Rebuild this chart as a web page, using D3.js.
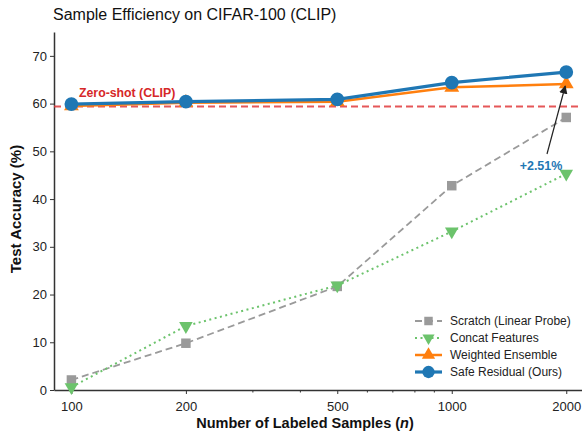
<!DOCTYPE html>
<html>
<head>
<meta charset="utf-8">
<script src="https://cdn.jsdelivr.net/npm/d3@7"></script>
<style>
  body { margin: 0; background: #fff; }
  svg text { font-family: "Liberation Sans", Arial, sans-serif; }
</style>
</head>
<body>
<svg id="chart" width="582" height="434"></svg>
<script>
// data
var samples = [100, 200, 500, 1000, 2000];
var scratch = [2.1, 9.8, 21.7, 42.8, 57.1];
var concat = [0.6, 13.4, 21.9, 33.2, 45.3];
var weighted = [59.5, 60.2, 60.4, 63.4, 64.1];
var safeResidual = [59.9, 60.4, 60.9, 64.4, 66.6];
var zeroShot = 59.4;
var xTicks = [100, 200, 500, 1000, 2000];
var xMinor = [300, 400, 600, 700, 800, 900];
var yTicks = [0, 10, 20, 30, 40, 50, 60, 70];

var svg = d3.select("#chart");
var m = {left: 54, top: 32, right: 0, bottom: 44};
var W = 582, H = 434;

var x = d3.scaleLog().domain([90, 2200]).range([m.left, W - m.right]);
var y = d3.scaleLinear().domain([0, 75]).range([H - m.bottom, m.top]);

// title
svg.append("text").attr("x", 53).attr("y", 20)
    .style("font-size", "16px").attr("fill", "#111")
    .text("Sample Efficiency on CIFAR-100 (CLIP)");

// axes
var xAxis = svg.append("g").attr("transform", "translate(0," + y(0) + ")")
    .call(d3.axisBottom(x).tickValues(xTicks).tickFormat(d3.format("d")).tickSize(4).tickSizeOuter(0));
xAxis.append("g").selectAll("line").data(xMinor).enter().append("line")
    .attr("x1", function (d) { return x(d); }).attr("x2", function (d) { return x(d); })
    .attr("y1", 0).attr("y2", 2.5).attr("stroke", "#333").attr("stroke-width", 1);

var yAxis = svg.append("g").attr("transform", "translate(" + m.left + ",0)")
    .call(d3.axisLeft(y).tickValues(yTicks).tickSize(4).tickSizeOuter(0));

[xAxis, yAxis].forEach(function (g) {
    g.select(".domain").attr("stroke", "#333").attr("stroke-width", 1.5);
    g.selectAll(".tick line").attr("stroke", "#333").attr("stroke-width", 1);
    g.selectAll(".tick text").style("font-size", "13px").attr("fill", "#222")
        .style("font-family", "'Liberation Sans', Arial, sans-serif");
});
xAxis.selectAll(".tick text").attr("dy", "1.1em");

svg.append("text").attr("x", 305).attr("y", 428).attr("text-anchor", "middle")
    .style("font-size", "14.5px").style("font-weight", "bold").attr("fill", "#111")
    .html("Number of Labeled Samples (<tspan font-style='italic'>n</tspan>)");
svg.append("text").attr("transform", "translate(21,209) rotate(-90)")
    .attr("text-anchor", "middle").style("font-size", "15px").style("font-weight", "bold")
    .attr("fill", "#111").text("Test Accuracy (%)");

// zero-shot reference
svg.append("line").attr("x1", m.left).attr("x2", W).attr("y1", y(zeroShot)).attr("y2", y(zeroShot))
    .attr("stroke", "#e0393b").attr("stroke-opacity", 0.85).attr("stroke-width", 2)
    .attr("stroke-dasharray", "7,4");
svg.append("text").attr("x", 79).attr("y", 97)
    .style("font-size", "12.3px").style("font-weight", "bold").attr("fill", "#d62728")
    .text("Zero-shot (CLIP)");

var line = function (vals) {
    return d3.line().x(function (d, i) { return x(samples[i]); }).y(function (d) { return y(d); })(vals);
};

var series = [
    {name: "Scratch (Linear Probe)", vals: scratch, color: "#9a9a9a", width: 1.8, dash: "7,4", sym: d3.symbolSquare, size: 90, rot: 0},
    {name: "Concat Features", vals: concat, color: "#6cc36c", width: 2, dash: "2,3.5", sym: d3.symbolTriangle, size: 80, rot: 180},
    {name: "Weighted Ensemble", vals: weighted, color: "#ff7f0e", width: 2.5, dash: null, sym: d3.symbolTriangle, size: 95, rot: 0},
    {name: "Safe Residual (Ours)", vals: safeResidual, color: "#1f77b4", width: 3.2, dash: null, sym: d3.symbolCircle, size: 150, rot: 0}
];

series.forEach(function (s) {
    svg.append("path").attr("d", line(s.vals)).attr("fill", "none")
        .attr("stroke", s.color).attr("stroke-width", s.width)
        .attr("stroke-dasharray", s.dash);
    svg.append("g").selectAll("path").data(s.vals).enter().append("path")
        .attr("d", d3.symbol().type(s.sym).size(s.size))
        .attr("transform", function (d, i) {
            return "translate(" + x(samples[i]) + "," + y(d) + ") rotate(" + s.rot + ")";
        })
        .attr("fill", s.color);
});

// annotation
var defs = svg.append("defs");
defs.append("marker").attr("id", "arr").attr("viewBox", "0 0 10 10").attr("refX", 9).attr("refY", 5)
    .attr("markerWidth", 7).attr("markerHeight", 7).attr("orient", "auto")
    .append("path").attr("d", "M0,0 L10,5 L0,10 Z").attr("fill", "#222");
svg.append("line").attr("x1", 547).attr("y1", 154)
    .attr("x2", x(2000) - 1).attr("y2", y(weighted[4]) + 2)
    .attr("stroke", "#222").attr("stroke-width", 1.2).attr("marker-end", "url(#arr)");
svg.append("text").attr("x", 541).attr("y", 170).attr("text-anchor", "middle")
    .style("font-size", "12.5px").style("font-weight", "bold").attr("fill", "#1f77b4")
    .text("+2.51%");

// legend
var lg = svg.append("g").attr("transform", "translate(415,321)");
series.forEach(function (s, i) {
    var row = lg.append("g").attr("transform", "translate(0," + i * 17 + ")");
    row.append("line").attr("x1", 0).attr("x2", 27).attr("stroke", s.color)
        .attr("stroke-width", s.width).attr("stroke-dasharray", s.dash);
    row.append("path").attr("d", d3.symbol().type(s.sym).size(s.size * 0.8))
        .attr("transform", "translate(13.5,0) rotate(" + s.rot + ")").attr("fill", s.color);
    row.append("text").attr("x", 35).attr("y", 4).style("font-size", "12px").attr("fill", "#222")
        .text(s.name);
});
</script>
</body>
</html>
